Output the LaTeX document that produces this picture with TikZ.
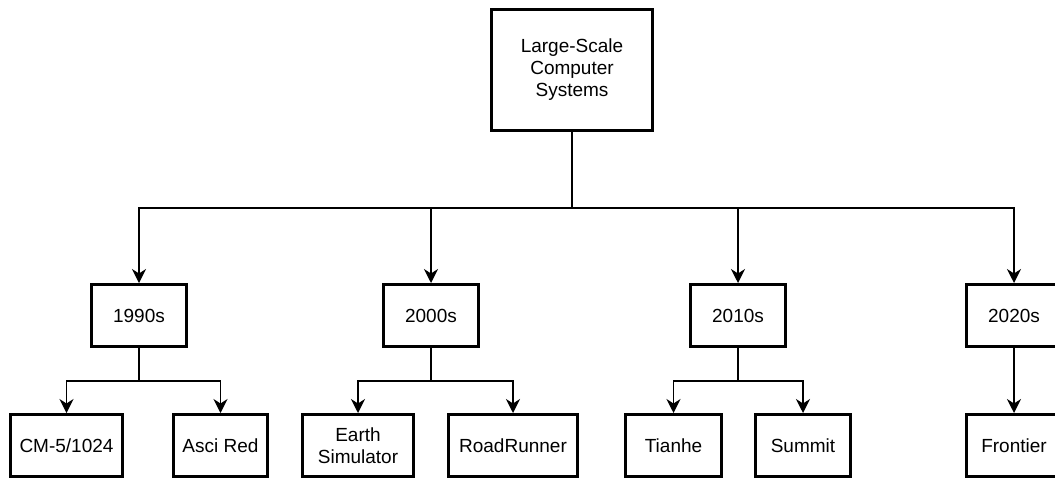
\documentclass[tikz,border=0pt]{standalone}
\usepackage{fontspec}
\setmainfont{Liberation Sans}
\usetikzlibrary{arrows.meta}

\begin{document}
\begin{tikzpicture}[
    x=1pt, y=-1pt,
    box/.style={draw, line width=3pt, align=center, inner sep=2pt,
      minimum width=95pt, minimum height=62pt,
      font=\fontsize{19}{22}\selectfont},
    link/.style={line width=1.5pt},
    arrow/.style={link, -{Stealth[length=14pt, width=14pt, inset=4.5pt]}},
  ]

  \def\busy{208}   % main bus height
  \def\forky{381}  % fork height of the leaves
  \def\decy{315.5} % decade row
  \def\leafy{445.5} % leaf row

  \useasboundingbox (0,0) rectangle (1055,477);

  % --- Root ---
  \node[box, minimum width=161pt, minimum height=121pt] (root) at (572,70)
    {Large-Scale\\Computer\\Systems};

  % --- Decades ---
  \node[box] (d1990) at (139,\decy) {1990s};
  \node[box] (d2000) at (431,\decy) {2000s};
  \node[box] (d2010) at (738,\decy) {2010s};
  \node[box] (d2020) at (1014,\decy) {2020s};

  % --- Systems ---
  \node[box, minimum width=112pt] (cm5) at (66.5,\leafy) {CM-5/1024};
  \node[box, minimum width=94pt] (asci) at (220.5,\leafy) {Asci Red};
  \node[box, minimum width=111pt] (earth) at (358,\leafy) {Earth\\Simulator};
  \node[box, minimum width=129pt] (road) at (513,\leafy) {RoadRunner};
  \node[box, minimum width=96pt] (tianhe) at (673.5,\leafy) {Tianhe};
  \node[box] (summit) at (803,\leafy) {Summit};
  \node[box] (frontier) at (1014,\leafy) {Frontier};

  % Root to decades
  \coordinate (bus) at (572,\busy);
  \draw[link] (root) -- (bus);
  \foreach \d in {d1990, d2000, d2010, d2020} {
    \draw[arrow] (bus) -| (\d.north);
  }

  % Decades to systems
  \coordinate (f1990) at (139,\forky);
  \coordinate (f2000) at (431,\forky);
  \coordinate (f2010) at (738,\forky);
  \draw[link] (d1990) -- (f1990);
  \draw[link] (d2000) -- (f2000);
  \draw[link] (d2010) -- (f2010);
  \draw[arrow] (f1990) -| (cm5.north);
  \draw[arrow] (f1990) -| (asci.north);
  \draw[arrow] (f2000) -| (earth.north);
  \draw[arrow] (f2000) -| (road.north);
  \draw[arrow] (f2010) -| (tianhe.north);
  \draw[arrow] (f2010) -| (summit.north);
  \draw[arrow] (d2020) -- (frontier);

\end{tikzpicture}
\end{document}
